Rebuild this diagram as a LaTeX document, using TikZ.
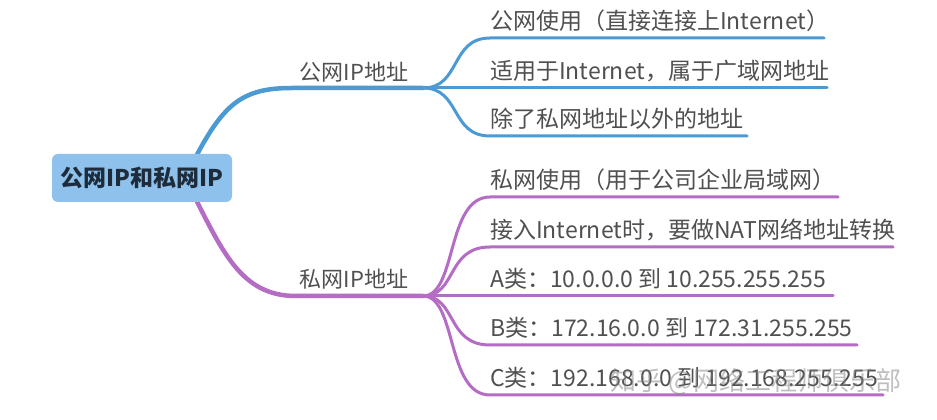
\documentclass[tikz,border=0pt]{standalone}
\usepackage{fontspec}
\setmainfont{Noto Sans CJK SC}
\usetikzlibrary{calc}
\definecolor{pubblue}{HTML}{4B9AD3}
\definecolor{privpurple}{HTML}{B56CC4}
\definecolor{rootfill}{HTML}{8EC1EB}
\definecolor{rootink}{HTML}{1E2B3A}
\definecolor{leafink}{HTML}{505050}
\tikzset{
  rootbox/.style={fill=rootfill, rounded corners=6pt, minimum width=180pt, minimum height=48pt,
    text=rootink, font=\fontsize{23}{26}\selectfont\bfseries},
  midtext/.style={text=leafink, font=\fontsize{22}{26}\selectfont, inner sep=0pt},
  leaftext/.style={text=leafink, font=\fontsize{23}{27}\selectfont, anchor=base west, inner sep=0pt},
  trunk/.style={line width=4.5pt, line cap=round},
  twig/.style={line width=3pt, line cap=round},
}
\begin{document}
\begin{tikzpicture}[x=1pt,y=1pt]
		%%%%% FRAME %%%%%
		\fill[white] (0, 0) rectangle (937, 420);
		\useasboundingbox (0, 0) rectangle (937, 420);
		
		%%%%% JUNCTIONS %%%%%
		\coordinate (pubjoint) at (423, 332);
		\coordinate (privjoint) at (423, 124);
		\coordinate (rootup) at (190, 252);
		\coordinate (rootdown) at (190, 232);
		
		%%%%% TRUNKS %%%%%
		\draw[trunk, pubblue] (rootup) .. controls (222, 315) and (240, 332) .. (292, 332) -- (pubjoint);
		\draw[trunk, privpurple] (rootdown) .. controls (222, 170) and (240, 124) .. (296, 124) -- (privjoint);
		
		\node[rootbox] (root) at (142, 242) {公网IP和私网IP};
		
		\node[midtext] (pubname) at (354, 348) {公网IP地址};
		\node[midtext] (privname) at (354, 141) {私网IP地址};
		
		%%%%% PUBLIC LEAVES %%%%%
		\coordinate (pubA) at (490, 382); \coordinate (pubAend) at (824, 382);
		\coordinate (pubB) at (490, 332); \coordinate (pubBend) at (827, 332);
		\coordinate (pubC) at (490, 284); \coordinate (pubCend) at (747, 284);
		
		\draw[twig, pubblue] (pubjoint) .. controls +(38, 0) and +(-40, 0) .. (pubA) -- (pubAend);
		\draw[twig, pubblue] (pubjoint) -- (pubB) -- (pubBend);
		\draw[twig, pubblue] (pubjoint) .. controls +(38, 0) and +(-40, 0) .. (pubC) -- (pubCend);
		
		\node[leaftext] (pubusage) at ($(pubA)+(0, 8)$) {公网使用（直接连接上Internet）};
		\node[leaftext] (pubscope) at ($(pubB)+(0, 8)$) {适用于Internet，属于广域网地址};
		\node[leaftext] (pubrange) at ($(pubC)+(0, 8)$) {除了私网地址以外的地址};
		
		%%%%% PRIVATE LEAVES %%%%%
		\coordinate (privA) at (490, 223); \coordinate (privAend) at (838, 223);
		\coordinate (privB) at (490, 173); \coordinate (privBend) at (893, 173);
		\coordinate (privC) at (490, 124); \coordinate (privCend) at (833, 124);
		\coordinate (privD) at (490, 75);  \coordinate (privDend) at (857, 75);
		\coordinate (privE) at (490, 25);  \coordinate (privEend) at (883, 25);
		
		\draw[twig, privpurple] (privjoint) .. controls +(34, 0) and +(-44, 0) .. (privA) -- (privAend);
		\draw[twig, privpurple] (privjoint) .. controls +(34, 0) and +(-44, 0) .. (privB) -- (privBend);
		\draw[twig, privpurple] (privjoint) -- (privC) -- (privCend);
		\draw[twig, privpurple] (privjoint) .. controls +(34, 0) and +(-44, 0) .. (privD) -- (privDend);
		\draw[twig, privpurple] (privjoint) .. controls +(34, 0) and +(-44, 0) .. (privE) -- (privEend);
		
		\node[leaftext] (privusage) at ($(privA)+(0, 8)$) {私网使用（用于公司企业局域网）};
		\node[leaftext] (privnat) at ($(privB)+(0, 8)$) {接入Internet时，要做NAT网络地址转换};
		\node[leaftext] (classa) at ($(privC)+(0, 8)$) {A类：10.0.0.0 到 10.255.255.255};
		\node[leaftext] (classb) at ($(privD)+(0, 8)$) {B类：172.16.0.0 到 172.31.255.255};
		\node[leaftext] (classc) at ($(privE)+(0, 8)$) {C类：192.168.0.0 到 192.168.255.255};
		
		%%%%% WATERMARK %%%%%
		\node[text=gray, opacity=0.5, font=\fontsize{26}{30}\selectfont, inner sep=0pt] (mark) at (756, 38) {知乎 @网络工程师俱乐部};
\end{tikzpicture}
\end{document}
